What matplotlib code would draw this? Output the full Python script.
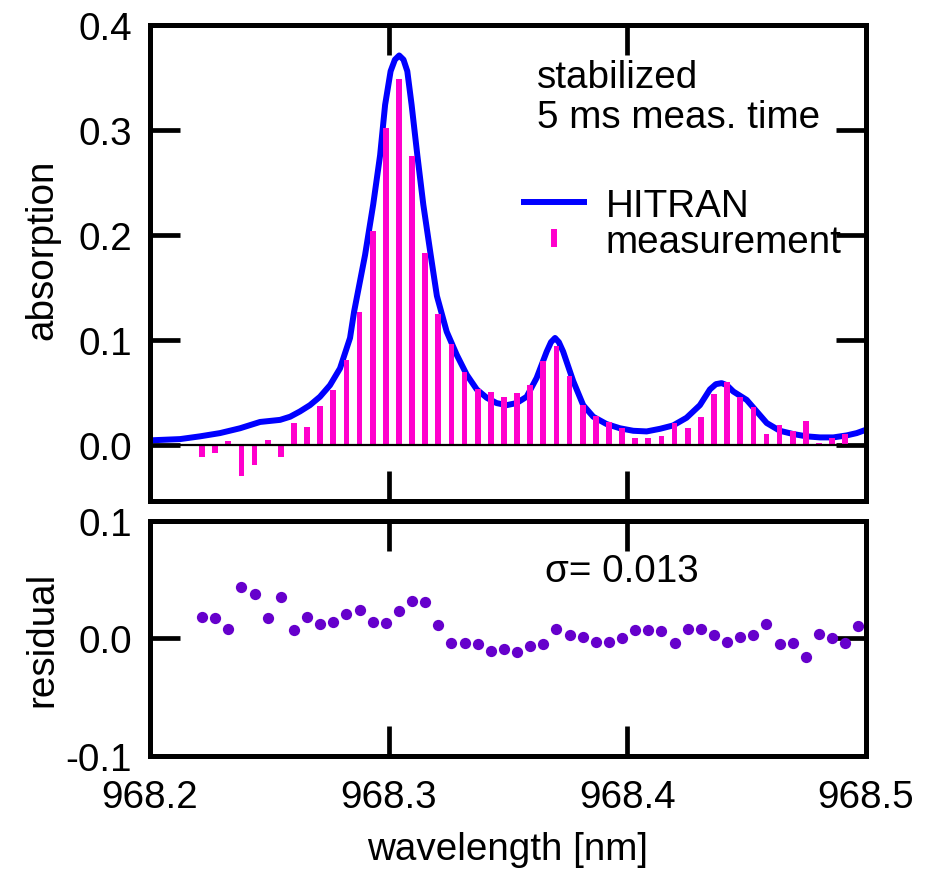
import matplotlib
matplotlib.use("Agg")
import matplotlib.pyplot as plt
from matplotlib.lines import Line2D
from matplotlib.ticker import FormatStrFormatter

plt.rcParams['font.family'] = ['Liberation Sans', 'DejaVu Sans']
plt.rcParams['axes.unicode_minus'] = False

# ---------------- data ----------------
hitran_wl = [968.2000, 968.2126, 968.2209, 968.2293, 968.2377, 968.2419, 968.2461,
             968.2545, 968.2587, 968.2628, 968.2670, 968.2712, 968.2754, 968.2796,
             968.2838, 968.2855, 968.2901, 968.2935, 968.2964, 968.2985, 968.3008,
             968.3026, 968.3044, 968.3062, 968.3078, 968.3096, 968.3120, 968.3145,
             968.3176, 968.3202, 968.3243, 968.3285, 968.3327, 968.3369, 968.3411,
             968.3452, 968.3494, 968.3536, 968.3578, 968.3620, 968.3662, 968.3680,
             968.3697, 968.3713, 968.3731, 968.3773, 968.3815, 968.3857, 968.3913,
             968.3969, 968.4025, 968.4081, 968.4137, 968.4192, 968.4248, 968.4304,
             968.4346, 968.4371, 968.4395, 968.4417, 968.4444, 968.4500, 968.4542,
             968.4584, 968.4639, 968.4695, 968.4751, 968.4807, 968.4863, 968.4919,
             968.4961, 968.5000]
hitran_abs = [0.0045, 0.0057, 0.0083, 0.0114, 0.016, 0.019, 0.022,
              0.024, 0.027, 0.032, 0.038, 0.046, 0.057, 0.073,
              0.102, 0.127, 0.181, 0.229, 0.276, 0.324, 0.356,
              0.367, 0.371, 0.367, 0.356, 0.324, 0.276, 0.229,
              0.181, 0.142, 0.108, 0.086, 0.067, 0.053, 0.045,
              0.040, 0.038, 0.040, 0.046, 0.064, 0.089, 0.098,
              0.102, 0.098, 0.089, 0.061, 0.038, 0.027, 0.020,
              0.016, 0.0136, 0.013, 0.0155, 0.0187, 0.026, 0.038,
              0.053, 0.058, 0.059, 0.057, 0.051, 0.043, 0.032,
              0.021, 0.0136, 0.0105, 0.0083, 0.0073, 0.0073, 0.0092,
              0.0114, 0.0146]

meas_wl = [968.2218, 968.2273, 968.2328, 968.2383, 968.2438, 968.2493, 968.2548,
           968.2603, 968.2658, 968.2713, 968.2768, 968.2823, 968.2878, 968.2933,
           968.2988, 968.3043, 968.3098, 968.3153, 968.3208, 968.3263, 968.3318,
           968.3373, 968.3428, 968.3483, 968.3538, 968.3593, 968.3648, 968.3703,
           968.3758, 968.3813, 968.3868, 968.3923, 968.3978, 968.4033, 968.4088,
           968.4143, 968.4198, 968.4253, 968.4308, 968.4363, 968.4418, 968.4473,
           968.4528, 968.4583, 968.4638, 968.4693, 968.4748, 968.4803, 968.4858,
           968.4913, 968.4968]
meas_abs = [-0.011, -0.008, 0.004, -0.029, -0.019, 0.005, -0.011, 0.021, 0.017, 0.037,
            0.052, 0.081, 0.127, 0.204, 0.302, 0.349, 0.275, 0.183, 0.125, 0.096,
            0.070, 0.053, 0.051, 0.046, 0.050, 0.057, 0.080, 0.094, 0.066, 0.038,
            0.028, 0.022, 0.016, 0.007, 0.007, 0.009, 0.021, 0.016, 0.027, 0.049,
            0.060, 0.046, 0.036, 0.011, 0.019, 0.013, 0.023, 0.002, 0.007, 0.011,
            0.001]
residual = [0.018, 0.017, 0.008, 0.044, 0.038, 0.017, 0.035, 0.007, 0.018, 0.012,
            0.014, 0.021, 0.024, 0.014, 0.013, 0.023, 0.032, 0.031, 0.011, -0.004,
            -0.004, -0.005, -0.011, -0.009, -0.012, -0.007, -0.005, 0.008, 0.003, 0.001,
            -0.003, -0.003, 0.000, 0.007, 0.007, 0.006, -0.004, 0.008, 0.008, 0.003,
            -0.003, 0.001, 0.003, 0.012, -0.005, -0.004, -0.016, 0.004, 0.000, -0.004,
            0.010]

x_ticks = [968.2, 968.3, 968.4, 968.5]
y_ticks_top = [0.0, 0.1, 0.2, 0.3, 0.4]
y_ticks_bot = [-0.1, 0.0, 0.1]

# ---------------- style ----------------
FS = 27.8
BLUE = '#0000ff'
MAGENTA = '#ff00cc'
PURPLE = '#6600cc'
SPINE_W = 3.6
TICK_W = 3.4
TICK_L = 21.6

fig = plt.figure(figsize=(9.29, 8.7), dpi=100)
ax1 = fig.add_axes([0.1615, 0.4233, 0.7707, 0.5468])
ax2 = fig.add_axes([0.1615, 0.1302, 0.7707, 0.2701])

for ax in (ax1, ax2):
    for s in ax.spines.values():
        s.set_linewidth(SPINE_W)
    ax.tick_params(direction='in', top=True, right=True, length=TICK_L, width=TICK_W,
                   labelsize=FS)
    ax.tick_params(axis='y', pad=13)
    ax.tick_params(axis='x', pad=17)
    ax.set_xlim(968.2, 968.5)
    ax.set_xticks(x_ticks)
    ax.xaxis.set_major_formatter(FormatStrFormatter('%.1f'))
    ax.yaxis.set_major_formatter(FormatStrFormatter('%.1f'))

# top panel
ax1.plot(hitran_wl, hitran_abs, color=BLUE, lw=4.3, zorder=2, solid_capstyle='butt')
ax1.bar(meas_wl, meas_abs, width=0.0024, color=MAGENTA, zorder=3)
ax1.axhline(0, color='black', lw=1.6, zorder=4)
ax1.set_ylim(-0.053, 0.4)
ax1.set_yticks(y_ticks_top)
ax1.tick_params(axis='x', labelbottom=False)
ax1.set_ylabel('absorption', fontsize=FS)
ax1.yaxis.set_label_coords(-0.1257, 0.53)

ax1.text(0.540, 0.869, 'stabilized', transform=ax1.transAxes, fontsize=FS,
         ha='left', va='baseline')
ax1.text(0.540, 0.786, '5 ms meas. time', transform=ax1.transAxes, fontsize=FS,
         ha='left', va='baseline')

h_line = Line2D([], [], color=BLUE, lw=4.3, solid_capstyle='butt')
h_meas = Line2D([], [], color=MAGENTA, lw=0, marker='|', markersize=13.2, mew=4.3)
ax1.legend([h_line, h_meas], ['HITRAN', 'measurement'], loc='upper left',
           bbox_to_anchor=(0.5177, 0.658), frameon=False, fontsize=FS,
           handlelength=1.73, handletextpad=0.475, labelspacing=0.0,
           borderpad=0, borderaxespad=0)

# bottom panel
ax2.plot(meas_wl, residual, 'o', color=PURPLE, markersize=8.1, mew=0)
ax2.set_ylim(-0.1, 0.1)
ax2.set_yticks(y_ticks_bot)
ax2.set_ylabel('residual', fontsize=FS)
ax2.yaxis.set_label_coords(-0.1257, 0.5)
ax2.set_xlabel('wavelength [nm]', fontsize=FS, labelpad=11)
ax2.text(0.552, 0.745, '\u03c3= 0.013', transform=ax2.transAxes, fontsize=FS,
         ha='left', va='baseline')

fig.savefig('out.png', dpi=100)
